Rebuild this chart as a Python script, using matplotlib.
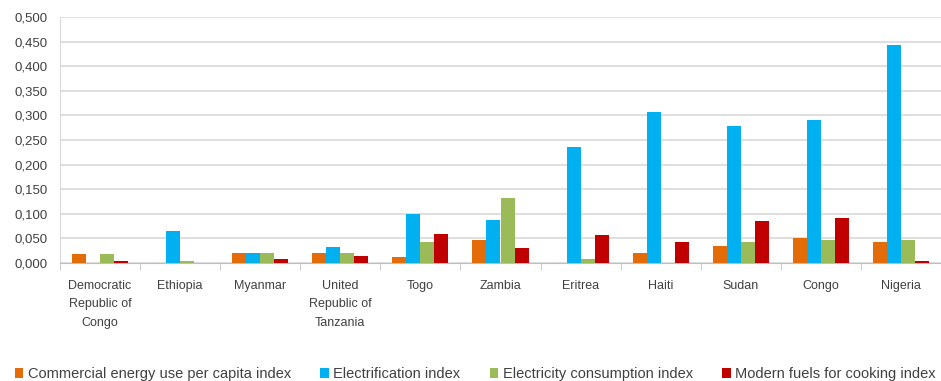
import matplotlib
matplotlib.use("Agg")
import matplotlib.pyplot as plt
import numpy as np
from matplotlib.ticker import FuncFormatter, FixedLocator

plt.rcParams["font.family"] = ["Liberation Sans", "DejaVu Sans"]

countries = ["Democratic\nRepublic of\nCongo", "Ethiopia", "Myanmar", "United\nRepublic of\nTanzania",
             "Togo", "Zambia", "Eritrea", "Haiti", "Sudan", "Congo", "Nigeria"]
series_names = ["Commercial energy use per capita index", "Electrification index",
                "Electricity consumption index", "Modern fuels for cooking index"]
commercial = [0.019, 0.0, 0.020, 0.021, 0.012, 0.046, 0.0, 0.020, 0.034, 0.050, 0.043]
electrification = [0.0, 0.066, 0.021, 0.032, 0.100, 0.088, 0.235, 0.307, 0.279, 0.291, 0.443]
consumption = [0.019, 0.005, 0.020, 0.021, 0.042, 0.133, 0.009, 0.0, 0.042, 0.047, 0.047]
cooking = [0.005, 0.0, 0.009, 0.015, 0.059, 0.030, 0.056, 0.043, 0.085, 0.091, 0.005]
colors = ["#E36C09", "#00B0F0", "#9BBB59", "#C00000"]

fig = plt.figure(figsize=(9.41, 3.81), dpi=100)
ax = fig.add_axes([60 / 941, 1 - 263 / 381, 881 / 941, 246 / 381])

x = np.arange(len(countries))
w = 0.175
for i, vals in enumerate([commercial, electrification, consumption, cooking]):
    ax.bar(x + (i - 1.5) * w, vals, w, color=colors[i], label=series_names[i], zorder=3)

ax.set_xlim(-0.5, len(countries) - 0.5)
ax.set_ylim(0, 0.5)
ax.set_yticks(np.arange(0, 0.501, 0.05))
ax.yaxis.set_major_formatter(FuncFormatter(lambda v, p: f"{v:.3f}".replace(".", ",")))
ax.grid(axis="y", color="#D9D9D9", linewidth=1.2, zorder=0)

ax.set_xticks(x)
ax.set_xticklabels(countries, fontsize=9, color="#404040", linespacing=1.75, va="top")
ax.xaxis.set_minor_locator(FixedLocator(np.arange(-0.5, len(countries), 1)))
ax.tick_params(axis="x", which="major", length=0, pad=12)
ax.tick_params(axis="x", which="minor", length=5, color="#BFBFBF")
ax.tick_params(axis="y", length=0, labelsize=9.5, labelcolor="#404040", pad=9)

for s in ["top", "right"]:
    ax.spines[s].set_visible(False)
ax.spines["left"].set_color("#D9D9D9")
ax.spines["bottom"].set_color("#BFBFBF")

fig.legend(loc="lower center", bbox_to_anchor=(0.505, -0.035), ncol=4, frameon=False,
           fontsize=10.5, handlelength=0.6, handleheight=0.6, handletextpad=0.3,
           columnspacing=2.0, labelcolor="#404040")

fig.savefig("out.png", dpi=100)
